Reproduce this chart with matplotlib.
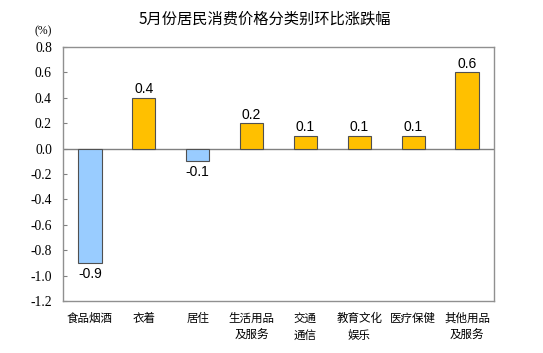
import matplotlib.pyplot as plt
import numpy as np

categories = ["食品烟酒", "衣着", "居住", "生活用品\n及服务", "交通\n通信",
              "教育文化\n娱乐", "医疗保健", "其他用品\n及服务"]
values = [-0.9, 0.4, -0.1, 0.2, 0.1, 0.1, 0.1, 0.6]
yticks = [0.8, 0.6, 0.4, 0.2, 0.0, -0.2, -0.4, -0.6, -0.8, -1.0, -1.2]

CJK = ["Noto Sans CJK SC", "DejaVu Sans"]


def main():
    fig = plt.figure(figsize=(5.43, 3.53), dpi=100)
    ax = fig.add_axes([63 / 543, 1 - 301 / 353, 431 / 543, 254 / 353])

    x = np.arange(len(values))
    colors = ["#99CCFF" if v < 0 else "#FFC000" for v in values]
    ax.bar(x, values, width=0.43, color=colors, edgecolor="#505050", linewidth=0.8, zorder=3)
    ax.axhline(0, color="#808080", linewidth=1.0, zorder=2)

    for xi, v in zip(x, values):
        off = 0.012 if v >= 0 else -0.03
        ax.text(xi, v + off, f"{v:.1f}", ha="center", va="bottom" if v >= 0 else "top",
                fontsize=10, family="Liberation Sans")

    ax.set_xlim(-0.5, len(values) - 0.5)
    ax.set_ylim(-1.2, 0.8)
    ax.set_yticks(yticks)
    ax.set_yticklabels([f"{t:.1f}" for t in yticks], family="Liberation Serif", fontsize=9.8)
    ax.tick_params(axis="y", direction="in", length=3, color="#808080", pad=8)
    ax.set_xticks(x)
    ax.set_xticklabels(categories, family=CJK, fontsize=8.3, linespacing=1.35)
    ax.tick_params(axis="x", length=0, pad=8)
    for s in ax.spines.values():
        s.set_color("#909090")
        s.set_linewidth(1.0)

    fig.text(265 / 543, 1 - 19 / 353, "5月份居民消费价格分类别环比涨跌幅", ha="center", va="center",
             family=CJK, fontsize=11)
    fig.text(43 / 543, 1 - 31 / 353, "(%)", ha="center", va="center",
             family="Liberation Serif", fontsize=8.5)

    fig.savefig("out.png", dpi=100)


if __name__ == "__main__":
    main()
